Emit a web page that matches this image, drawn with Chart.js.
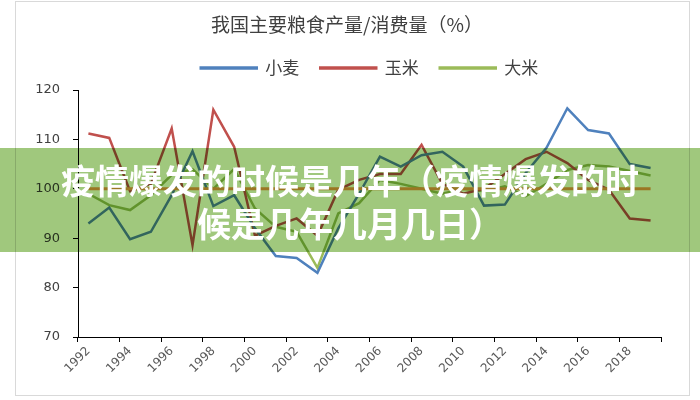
<!DOCTYPE html>
<html>
<head>
<meta charset="utf-8">
<script src="https://cdn.jsdelivr.net/npm/chart.js@4.4.0/dist/chart.umd.min.js"></script>
<style>
  html, body { margin: 0; padding: 0; background: #fff; }
  #wrap { position: relative; width: 700px; height: 400px; }
  #band {
    position: absolute; left: 0; top: 148px; width: 700px; height: 104px;
    background: #a0c87d; mix-blend-mode: multiply;
  }
  #caption {
    position: absolute; left: 0; top: 158px; width: 700px;
    color: #fff; text-align: center;
    font: bold 34px/43px "Noto Sans CJK SC", sans-serif;
  }
</style>
</head>
<body>
<div id="wrap">
  <canvas id="chart" width="700" height="400"></canvas>
  <div id="band"></div>
  <div id="caption">疫情爆发的时候是几年（疫情爆发的时<br>候是几年几月几日）</div>
</div>
<script>
const years = [1992, 1993, 1994, 1995, 1996, 1997, 1998, 1999, 2000, 2001,
  2002, 2003, 2004, 2005, 2006, 2007, 2008, 2009, 2010, 2011,
  2012, 2013, 2014, 2015, 2016, 2017, 2018, 2019];
const wheat = [93, 96.2, 89.8, 91.3, 98.7, 107.6, 96.5, 98.7, 92, 86.4,
  86, 83, 92, 99, 106.5, 104.5, 106.8, 107.5, 104.5, 96.6,
  96.8, 103.2, 108.3, 116.3, 111.9, 111.2, 105, 104.2];
const corn = [111.2, 110.3, 99.5, 101, 112.2, 88.6, 116, 108.5, 90.5, 92.5,
  94, 90.5, 99.8, 101.8, 103, 103, 108.9, 101, 99, 100,
  103, 106, 107.5, 105.2, 101.8, 99.8, 94, 93.6];
const rice = [99, 96.7, 95.7, 98.7, 102.8, 104, 100, 104, 96, 92.3,
  91.3, 84, 95, 97.1, 101.8, 101, 100, 99, 100, 99.5,
  100.5, 98.5, 101, 103.8, 104.8, 104.5, 103.6, 102.7];
const yTicks = [70, 80, 90, 100, 110, 120];
const parity = 100;

// 100% reference line, drawn on top of the series
const parityLine = {
  id: 'parityLine',
  afterDatasetsDraw(chart) {
    const { ctx, scales: { x, y } } = chart;
    const py = y.getPixelForValue(parity);
    ctx.save();
    ctx.strokeStyle = '#F79646';
    ctx.lineWidth = 3;
    ctx.beginPath();
    ctx.moveTo(x.getPixelForValue(0), py);
    ctx.lineTo(x.getPixelForValue(years.length - 1), py);
    ctx.stroke();
    ctx.restore();
  }
};

const frame = {
  id: 'frame',
  beforeDraw(chart) {
    const ctx = chart.ctx;
    ctx.save();
    ctx.strokeStyle = '#d9d9d9';
    ctx.lineWidth = 1;
    ctx.strokeRect(15.5, 1.5, 674, 394);
    ctx.restore();
  }
};

const series = (label, data, color) => ({
  label: label,
  data: data,
  borderColor: color,
  backgroundColor: color,
  borderWidth: 2.5,
  pointRadius: 0,
  tension: 0
});

new Chart(document.getElementById('chart'), {
  type: 'line',
  data: {
    labels: years,
    datasets: [
      series('小麦', wheat, '#4F81BD'),
      series('玉米', corn, '#C0504D'),
      series('大米', rice, '#9BBB59')
    ]
  },
  options: {
    responsive: false,
    animation: false,
    layout: { padding: { left: 33, right: 39, top: 0, bottom: 0 } },
    plugins: {
      title: {
        display: true,
        text: '我国主要粮食产量/消费量（%）',
        color: '#404040',
        font: { family: 'Noto Sans CJK SC', size: 19, weight: 'normal' },
        padding: { top: 13.6, bottom: 2.1 }
      },
      // empty subtitle below the legend, only as a small gap above the plot
      subtitle: {
        display: true,
        text: '',
        weight: 500,
        font: { size: 1 },
        padding: { top: 0, bottom: 2.3 }
      },
      legend: {
        fullSize: false,
        labels: {
          color: '#404040',
          font: { family: 'Noto Sans CJK SC', size: 17 },
          boxWidth: 56,
          boxHeight: 1,
          padding: 21
        }
      },
      tooltip: { enabled: false }
    },
    scales: {
      x: {
        offset: true,
        afterFit: (scale) => { scale.height = 63; },
        grid: {
          offset: true,
          drawOnChartArea: false,
          tickLength: 5,
          tickColor: (c) => ((c.index === undefined ? years.length : c.index) % 2 === 0 ? '#000' : 'rgba(0,0,0,0)')
        },
        border: { color: '#000', width: 1 },
        ticks: {
          autoSkip: false,
          minRotation: 45,
          maxRotation: 45,
          padding: 2,
          color: '#595959',
          font: { family: 'DejaVu Sans', size: 12 },
          callback: function (v, i) { return i % 2 === 0 ? this.getLabelForValue(v) : ''; }
        }
      },
      y: {
        min: yTicks[0],
        max: yTicks[yTicks.length - 1],
        afterFit: (scale) => { scale.width = 78 - 33; scale.paddingTop = 90; },
        grid: { drawOnChartArea: false, tickLength: 5, tickColor: '#000' },
        border: { color: '#000', width: 1 },
        ticks: { stepSize: 10, padding: 13, color: '#404040', font: { family: 'DejaVu Sans', size: 13 } }
      }
    }
  },
  plugins: [frame, parityLine]
});
</script>
</body>
</html>
